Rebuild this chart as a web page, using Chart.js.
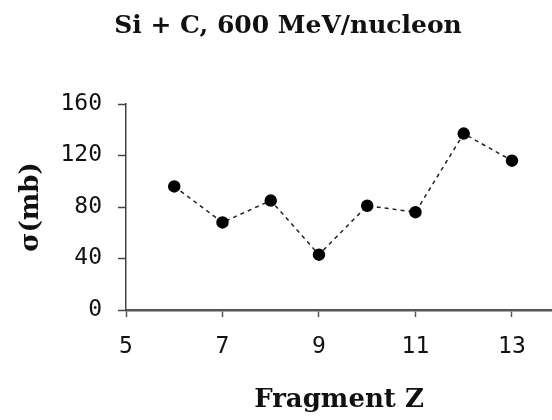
<!DOCTYPE html>
<html>
<head>
<meta charset="utf-8">
<script src="https://cdn.jsdelivr.net/npm/chart.js@4.4.0/dist/chart.umd.min.js"></script>
<style>
  html, body { margin: 0; padding: 0; background: #fff; overflow: hidden; }
  #wrap { width: 552px; height: 420px; }
</style>
</head>
<body>
<div id="wrap"><canvas id="graphe"></canvas></div>
<script>
// donnees
var fragmentZ = [6, 7, 8, 9, 10, 11, 12, 13];
var sigma = [96, 68, 85, 43, 81, 76, 137, 116];
var ticksX = [5, 7, 9, 11, 13];
var ticksY = [0, 40, 80, 120, 160];

var points = fragmentZ.map(function (z, i) {
  return { x: z, y: sigma[i] };
});

var monoFont = { family: 'DejaVu Sans Mono', size: 23 };
var titreFont = { family: 'DejaVu Serif', weight: 'bold', size: 25 };
var axeFont = { family: 'DejaVu Serif', weight: 'bold', size: 26 };

var ctx = 'graphe';
var graphe = new Chart(ctx, {
  type: 'line',
  data: {
    datasets: [{
      label: 'Si + C',
      data: points,
      borderColor: '#222',
      borderWidth: 1.5,
      borderDash: [4, 4],
      pointBackgroundColor: '#000',
      pointBorderColor: '#000',
      pointRadius: 5.5,
      pointStyle: 'circle',
      tension: 0
    }]
  },
  options: {
    responsive: true,
    maintainAspectRatio: false,
    animation: false,
    layout: { autoPadding: false, padding: { left: 16, right: -8, top: 0, bottom: 0 } },
    plugins: {
      legend: { display: false },
      tooltip: { enabled: false },
      title: {
        display: true,
        text: 'Si + C, 600 MeV/nucleon',
        color: '#111',
        font: titreFont,
        padding: { top: 11, bottom: 63 }
      }
    },
    scales: {
      x: {
        type: 'linear',
        min: 5,
        max: 13.83,
        afterBuildTicks: function (axis) {
          axis.ticks = ticksX.map(function (v) { return { value: v }; });
        },
        afterFit: function (axis) {
          axis.height = 110;
          axis.paddingLeft = 0;
          axis.paddingRight = 0;
        },
        border: { color: '#555', width: 2.5 },
        grid: { drawOnChartArea: false, drawTicks: true, tickLength: 7, tickColor: '#555', tickWidth: 1.5 },
        ticks: { color: '#111', font: monoFont, padding: 16, maxRotation: 0 },
        title: {
          display: true,
          text: 'Fragment Z',
          color: '#111',
          font: axeFont,
          padding: { top: 0, bottom: 4 }
        }
      },
      y: {
        min: 0,
        max: 160,
        afterBuildTicks: function (axis) {
          axis.ticks = ticksY.map(function (v) { return { value: v }; });
        },
        afterFit: function (axis) {
          axis.width = 110;
          axis.paddingTop = 0;
          axis.paddingBottom = 0;
        },
        border: { color: '#444', width: 1.5 },
        grid: { drawOnChartArea: false, drawTicks: true, tickLength: 8, tickColor: '#444', tickWidth: 1.5 },
        ticks: { color: '#111', font: monoFont, padding: 16 },
        title: {
          display: true,
          text: 'σ(mb)',
          color: '#111',
          font: axeFont,
          padding: { top: 0, bottom: 0 }
        }
      }
    }
  }
});
</script>
</body>
</html>
